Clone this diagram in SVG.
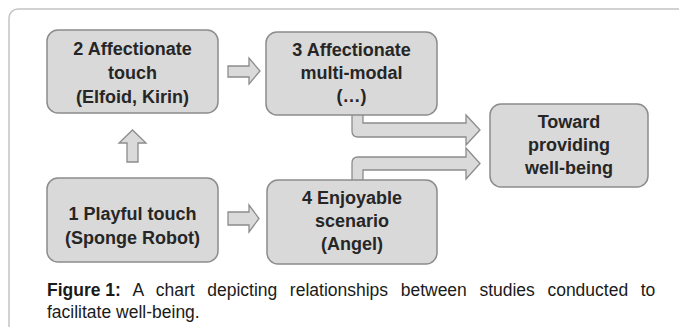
<svg xmlns="http://www.w3.org/2000/svg" width="679" height="327" viewBox="0 0 679 327">
<style>
.frame{fill:#ffffff;stroke:#c4c4c4;stroke-width:1.5}
.box{fill:#d9d9d9;stroke:#8c8c8c;stroke-width:1.5}
.arr{fill:#dadada;stroke:#8c8c8c;stroke-width:1.3;stroke-linejoin:miter}
.lbl{font-family:"Liberation Sans",Arial,sans-serif;font-weight:bold;font-size:18px;fill:#262626;text-anchor:middle}
.cap{font-family:"Liberation Sans",Arial,sans-serif;font-size:17.5px;fill:#1a1a1a}
</style>
<rect width="679" height="327" fill="#ffffff"/>
<rect class="frame" x="9" y="9" width="700" height="360" rx="9"/>
<g id="connectors">
<path class="arr" d="M228,66 H249 V58 L260,71 L249,84 V77 H228 Z"/>
<path class="arr" d="M228,212 H249 V205 L259,218.5 L249,232 V225 H228 Z"/>
<path class="arr" d="M127,162 V143 H119 L132.5,130 L146,143 H138 V162 Z"/>
<path class="arr" d="M352,112 V131 Q352,137 358,137 H466 V145 L480,130 L466,115 V123 H363 V112 Z"/>
<path class="arr" d="M352,183 V163 Q352,157 358,157 H466 V148 L480,163.5 L466,179 V170 H363 V183 Z"/>
</g>
<g id="node2">
<rect class="box" x="47" y="30" width="171" height="83" rx="11"/>
<text class="lbl" x="132.5" y="55">2 Affectionate</text>
<text class="lbl" x="132.5" y="79">touch</text>
<text class="lbl" x="132.5" y="103">(Elfoid, Kirin)</text>
</g>
<g id="node3">
<rect class="box" x="266" y="32" width="171" height="83" rx="11"/>
<text class="lbl" x="351.5" y="56">3 Affectionate</text>
<text class="lbl" x="351.5" y="79">multi-modal</text>
<text class="lbl" x="351.5" y="102">(…)</text>
</g>
<g id="node1">
<rect class="box" x="47" y="178" width="171" height="84" rx="11"/>
<text class="lbl" x="132.5" y="220">1 Playful touch</text>
<text class="lbl" x="132.5" y="244">(Sponge Robot)</text>
</g>
<g id="node4">
<rect class="box" x="267" y="180" width="170" height="84" rx="11"/>
<text class="lbl" x="352" y="204">4 Enjoyable</text>
<text class="lbl" x="352" y="227">scenario</text>
<text class="lbl" x="352" y="250">(Angel)</text>
</g>
<g id="node5">
<rect class="box" x="490" y="104" width="158" height="83" rx="11"/>
<text class="lbl" x="569" y="128">Toward</text>
<text class="lbl" x="569" y="151">providing</text>
<text class="lbl" x="569" y="174">well-being</text>
</g>
<g id="caption">
<text class="cap" x="47" y="296" word-spacing="7.7"><tspan font-weight="bold" word-spacing="0">Figure 1:</tspan> A chart depicting relationships between studies conducted to</text>
<text class="cap" x="47" y="318">facilitate well-being.</text>
</g>
</svg>
